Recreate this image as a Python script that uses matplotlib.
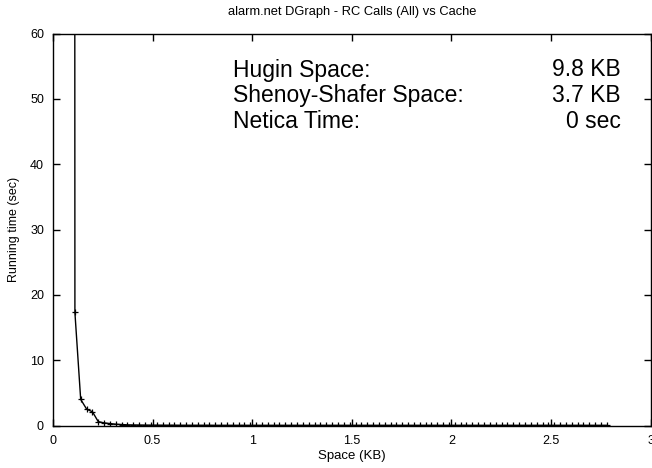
import matplotlib
matplotlib.use("Agg")
import matplotlib.pyplot as plt

plt.rcParams['font.family'] = ['Liberation Sans', 'DejaVu Sans']

# Data
space_kb = [0.081,
    0.110, 0.139, 0.169, 0.198, 0.227, 0.257, 0.286, 0.315, 0.345, 0.374,
    0.404, 0.433, 0.462, 0.492, 0.521, 0.550, 0.580, 0.609, 0.638, 0.668,
    0.697, 0.726, 0.756, 0.785, 0.814, 0.844, 0.873, 0.902, 0.932, 0.961,
    0.991, 1.020, 1.049, 1.079, 1.108, 1.137, 1.167, 1.196, 1.225, 1.255,
    1.284, 1.313, 1.343, 1.372, 1.401, 1.431, 1.460, 1.489, 1.519, 1.548,
    1.578, 1.607, 1.636, 1.666, 1.695, 1.724, 1.754, 1.783, 1.812, 1.842,
    1.871, 1.900, 1.930, 1.959, 1.988, 2.018, 2.047, 2.076, 2.106, 2.135,
    2.165, 2.194, 2.223, 2.253, 2.282, 2.311, 2.341, 2.370, 2.399, 2.429,
    2.458, 2.487, 2.517, 2.546, 2.575, 2.605, 2.634, 2.663, 2.693, 2.722,
    2.752, 2.781]
running_time = [2500.0,
    17.3, 4.0, 2.5, 2.1, 0.6, 0.4, 0.3, 0.2, 0.15, 0.1,
    0.08, 0.07, 0.06, 0.05, 0.05, 0.04, 0.04, 0.04, 0.03, 0.03,
    0.03, 0.03, 0.03, 0.03, 0.02, 0.02, 0.02, 0.02, 0.02, 0.02,
    0.02, 0.02, 0.02, 0.02, 0.02, 0.02, 0.02, 0.02, 0.02, 0.02,
    0.02, 0.02, 0.02, 0.02, 0.02, 0.02, 0.02, 0.02, 0.02, 0.02,
    0.02, 0.02, 0.02, 0.02, 0.02, 0.02, 0.02, 0.02, 0.02, 0.02,
    0.02, 0.02, 0.02, 0.02, 0.02, 0.02, 0.02, 0.02, 0.02, 0.02,
    0.02, 0.02, 0.02, 0.02, 0.02, 0.02, 0.02, 0.02, 0.02, 0.02,
    0.02, 0.02, 0.02, 0.02, 0.02, 0.02, 0.02, 0.02, 0.02, 0.02,
    0.02, 0.02]
x_ticks = [0, 0.5, 1, 1.5, 2, 2.5, 3]
x_ticklabels = ["0", "0.5", "1", "1.5", "2", "2.5", "3"]
y_ticks = [0, 10, 20, 30, 40, 50, 60]
info_labels = ["Hugin Space:", "Shenoy-Shafer Space:", "Netica Time:"]
info_values = ["9.8 KB", "3.7 KB", "0 sec"]

fig = plt.figure(figsize=(6.52, 4.68), dpi=100)
ax = fig.add_axes([53/652, 1-425.5/468, (650.5-53)/652, (425.5-33.5)/468])

ax.plot(space_kb, running_time, color='black', linewidth=1.0,
        marker='+', markersize=5, markeredgewidth=0.9)

ax.set_xlim(0, 3)
ax.set_ylim(0, 60)
ax.set_xticks(x_ticks)
ax.set_xticklabels(x_ticklabels)
ax.set_yticks(y_ticks)
ax.tick_params(direction='in', top=True, right=True, length=5, width=1,
               labelsize=9, pad=6.5, colors='black')
for s in ax.spines.values():
    s.set_linewidth(1.0)

fig.text(352/652, 1-12/468, "alarm.net DGraph - RC Calls (All) vs Cache",
         fontsize=9.3, ha='center', va='center')
ax.set_xlabel("Space (KB)", fontsize=9.5, labelpad=2.5)
ax.set_ylabel("Running time (sec)", fontsize=9, labelpad=7)

ys = [70, 96, 121]
for lab, val, yp in zip(info_labels, info_values, ys):
    fig.text(233/652, 1-yp/468, lab, fontsize=16.5, ha='left', va='center')
    fig.text(621/652, 1-yp/468, val, fontsize=16.5, ha='right', va='center')

fig.savefig("out.png", dpi=100)
